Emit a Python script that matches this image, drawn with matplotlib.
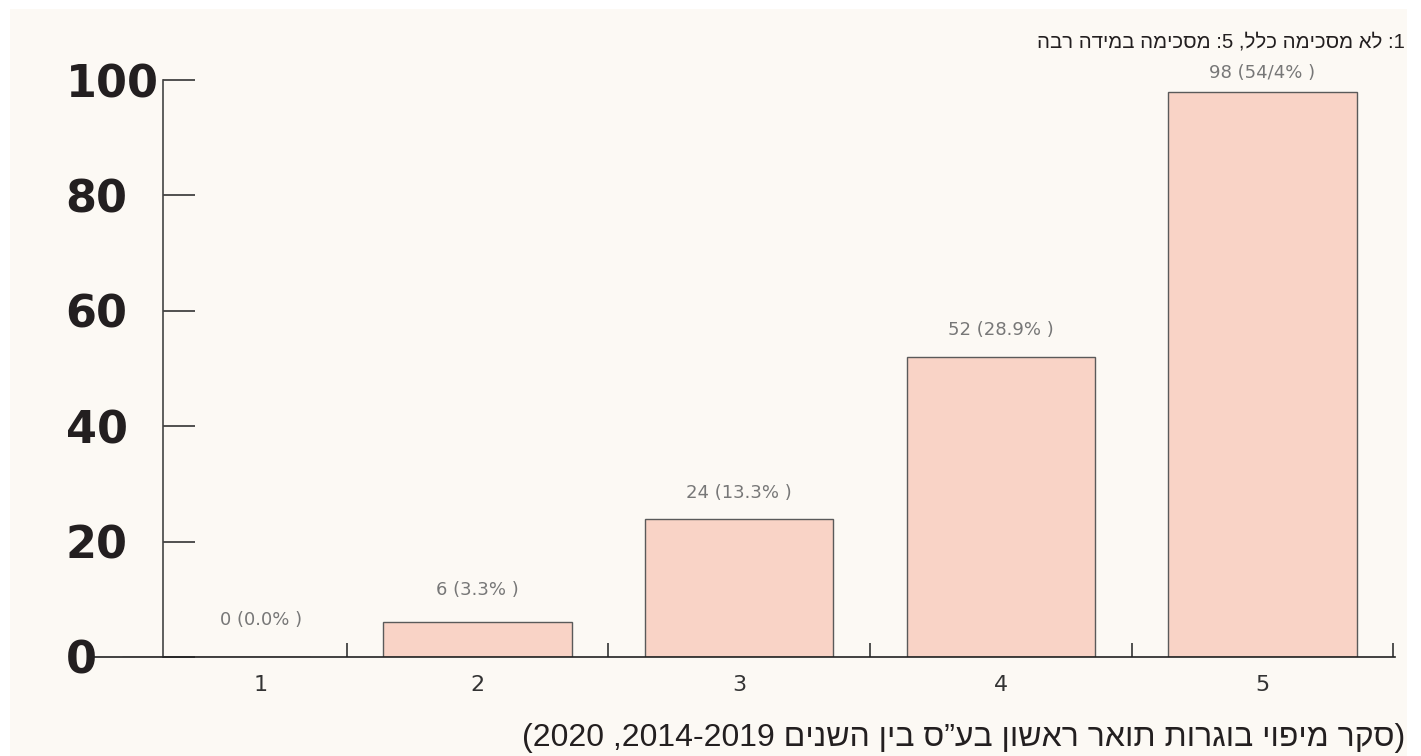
import re
import matplotlib
matplotlib.use("Agg")
import matplotlib.pyplot as plt
from matplotlib.patches import Rectangle

# data
categories = ["1", "2", "3", "4", "5"]
counts = [0, 6, 24, 52, 98]
pct_labels = ["0.0%", "3.3%", "13.3%", "28.9%", "54/4%"]
y_ticks = [0, 20, 40, 60, 80, 100]

legend_text = "1: לא מסכימה כלל, 5: מסכימה במידה רבה"
source_text = "(סקר מיפוי בוגרות תואר ראשון בע”ס בין השנים 2014-2019, 2020)"


def visual(s):
    # crude RTL reordering: reverse, keep number runs LTR, mirror brackets
    r = s[::-1]
    r = re.sub(r"[0-9][0-9.\-]*[0-9]", lambda m: m.group()[::-1], r)
    return r.translate(str.maketrans("()", ")("))


bg = "#fcf9f4"
bar_fill = "#f9d3c6"
bar_edge = "#5a5a5a"
dark = "#231f20"

plt.rcParams["font.family"] = ["Liberation Sans", "DejaVu Sans"]

W, H = 1421, 756
fig = plt.figure(figsize=(W / 100, H / 100), dpi=100)
fig.patch.set_facecolor("white")
fig.add_artist(Rectangle((10 / W, 0), (1407 - 10) / W, 1 - 9 / H,
                         transform=fig.transFigure, facecolor=bg,
                         edgecolor="none", zorder=0))

ax = fig.add_axes([93 / W, 1 - 657 / H, (1395 - 93) / W, (657 - 80) / H])
ax.set_facecolor("none")

x = list(range(1, len(categories) + 1))
ax.bar(x, counts, width=0.72, color=bar_fill, edgecolor=bar_edge,
       linewidth=1.0, zorder=2)

ax.set_xlim(0.53, 5.507)
ax.set_ylim(0, 100)

for s in ["top", "right"]:
    ax.spines[s].set_visible(False)
ax.spines["left"].set_position(("data", 0.797))
ax.spines["left"].set_color("#444444")
ax.spines["bottom"].set_color("#222222")
ax.spines["left"].set_linewidth(1.2)
ax.spines["bottom"].set_linewidth(1.2)

# y axis: long inward ticks, big left-aligned labels
ax.set_yticks(y_ticks)
ax.set_yticklabels([str(v) for v in y_ticks], fontfamily="DejaVu Sans",
                   fontweight="bold", fontsize=32, color=dark, ha="left")
ax.tick_params(axis="y", direction="in", length=23, width=1.2,
               color="#333333", pad=70)

# x axis: ticks on band edges, labels as minor ticks
ax.set_xticks([i + 0.5 for i in x])
ax.set_xticklabels([])
ax.tick_params(axis="x", which="major", direction="in", length=10,
               width=1.2, color="#333333")
label_x = [1.172] + x[1:]
ax.set_xticks(label_x, minor=True)
ax.set_xticklabels(categories, minor=True, fontsize=16, color="#333333",
                   fontfamily="DejaVu Sans")
ax.tick_params(axis="x", which="minor", length=0, pad=13)

# value labels
label_off = [37, 32, 26, 27, 19]
for i, (c, p) in enumerate(zip(counts, pct_labels)):
    lx = label_x[i] if i == 0 else x[i]
    ax.annotate(f"{c} ({p} )", (lx, c), xytext=(0, label_off[i]),
                textcoords="offset pixels", ha="center", va="center",
                fontsize=13, color="#777777", fontfamily="DejaVu Sans",
                annotation_clip=False)

fig.text(1405 / W, 1 - 42 / H, visual(legend_text), ha="right", va="center",
         fontsize=14.7, color=dark)
fig.text(1405 / W, 1 - 738 / H, visual(source_text), ha="right",
         va="center", fontsize=23, color=dark)

fig.savefig("out.png", dpi=100, facecolor="white")
